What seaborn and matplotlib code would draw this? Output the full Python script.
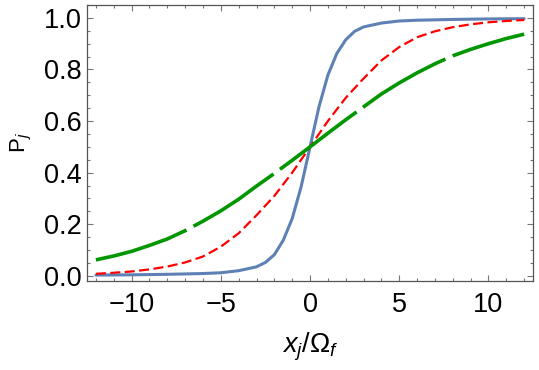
import numpy as np
import pandas as pd
import matplotlib
matplotlib.use("Agg")
import matplotlib.pyplot as plt
import seaborn as sns
from matplotlib.ticker import MultipleLocator

# Data
x_steep = [-12, -10, -8, -6, -5, -4, -3, -2.5, -2, -1.5, -1, -0.5, 0,
           0.5, 1, 1.5, 2, 2.5, 3, 4, 5, 6, 8, 10, 12]
p_steep = [0.003, 0.004, 0.006, 0.009, 0.012, 0.02, 0.035, 0.052, 0.082, 0.138, 0.222, 0.345, 0.5,
           0.655, 0.778, 0.862, 0.915, 0.948, 0.965, 0.98, 0.988, 0.991, 0.994, 0.996, 0.997]

x_mid = [-12, -11, -10, -9, -8, -7, -6, -5, -4, -3, -2, -1, 0,
         1, 2, 3, 4, 5, 6, 7, 8, 9, 10, 11, 12]
p_mid = [0.008, 0.012, 0.017, 0.025, 0.036, 0.052, 0.075, 0.113, 0.165, 0.235, 0.31, 0.40, 0.5,
         0.60, 0.69, 0.765, 0.835, 0.887, 0.925, 0.948, 0.964, 0.975, 0.983, 0.988, 0.992]

x_flat = [-12, -11, -10, -9, -8, -7, -6, -5, -4, -3, -2, -1, 0,
          1, 2, 3, 4, 5, 6, 7, 8, 9, 10, 11, 12]
p_flat = [0.062, 0.077, 0.095, 0.118, 0.143, 0.175, 0.212, 0.252, 0.297, 0.348, 0.397, 0.448, 0.5,
          0.553, 0.605, 0.655, 0.705, 0.748, 0.787, 0.822, 0.853, 0.878, 0.90, 0.92, 0.937]

x_ticks = [-10, -5, 0, 5, 10]
y_ticks = [0.0, 0.2, 0.4, 0.6, 0.8, 1.0]

sns.set_style("white")
plt.rcParams['font.family'] = ['Liberation Sans', 'DejaVu Sans']
plt.rcParams['mathtext.fontset'] = 'custom'
plt.rcParams['mathtext.rm'] = 'Liberation Sans'
plt.rcParams['mathtext.it'] = 'Liberation Sans:italic'

fig = plt.figure(figsize=(5.39, 3.70), dpi=100)
ax = fig.add_axes([0.1614, 0.2405, 0.8276, 0.746])

sns.lineplot(x=x_steep, y=p_steep, ax=ax, color='#5E81B5', linewidth=2.2)
sns.lineplot(x=x_mid, y=p_mid, ax=ax, color='#FF0000', linewidth=1.6,
             linestyle=(0, (4.5, 2.0)), dash_capstyle='butt')
sns.lineplot(x=x_flat, y=p_flat, ax=ax, color='#009600', linewidth=2.6,
             linestyle=(0, (26.5, 2.2)), dash_capstyle='butt')

ax.set_xlim(-12.5, 12.5)
ax.set_ylim(-0.02, 1.05)
ax.set_xticks(x_ticks)
ax.set_yticks(y_ticks)
ax.set_yticklabels([f'{v:.1f}' for v in y_ticks])
ax.xaxis.set_minor_locator(MultipleLocator(1))
ax.yaxis.set_minor_locator(MultipleLocator(0.05))

for s in ax.spines.values():
    s.set_color('#555555')
    s.set_linewidth(0.9)
ax.tick_params(which='both', direction='in', bottom=True, left=True, top=True, right=True,
               color='#777777', width=0.8, labelcolor='black')
ax.tick_params(which='major', length=4)
ax.tick_params(which='minor', length=2.3)
ax.tick_params(axis='x', which='major', labelsize=19.5, pad=8)
ax.tick_params(axis='y', which='major', labelsize=19.5, pad=4)

ax.set_xlabel(r'$x_j/\Omega_f$', fontsize=19.5, labelpad=9, color='black')
ax.set_ylabel(r'$\mathrm{P}_j$', fontsize=16, labelpad=7, color='black')
ax.grid(False)

fig.savefig('out.png', dpi=100)
